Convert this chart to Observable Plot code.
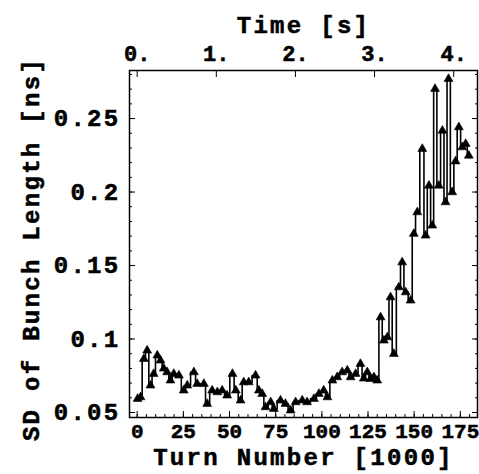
<!DOCTYPE html>
<html><head><meta charset="utf-8">
<script src="https://cdn.jsdelivr.net/npm/d3@7"></script>
<script src="https://cdn.jsdelivr.net/npm/@observablehq/plot@0.6"></script>
<style>
html,body{margin:0;padding:0;background:#fff}
#chart svg{letter-spacing:2.3px}
#chart svg text{stroke:#000;stroke-width:0.55px;paint-order:stroke}
#chart svg g[aria-label="x-axis tick label"]{letter-spacing:0px}
</style>
</head><body><div id="chart"></div>
<script>
// Data (turn number in thousands, SD of bunch length in ns)
const turns = [0.2, 1.8, 3.6, 5.4, 7.2, 8.9, 10.9, 12.6, 14.4, 16.2, 18.0, 19.8, 22.6, 25.2, 27.1, 30.7, 32.5, 36.1, 37.9, 40.6,
  43.4, 46.0, 48.7, 51.6, 53.4, 56.0, 57.7, 60.4, 64.1, 65.9, 67.7, 69.5, 72.3, 74.0, 77.6, 80.3, 83.1, 85.8, 89.4, 92.0,
  95.7, 98.4, 101.0, 103.0, 105.7, 108.3, 111.0, 113.8, 115.6, 118.3, 120.9, 122.7, 124.6, 126.4, 128.2, 130.0, 131.8, 133.6, 135.5, 137.2,
  139.0, 141.7, 143.5, 145.4, 148.1, 149.8, 151.7, 154.4, 156.2, 158.0, 159.8, 161.3, 163.3, 165.3, 167.0, 168.6, 170.6, 172.4, 174.2, 176.1,
  177.9, 179.6];
const sdBunchLength = [0.0593, 0.0604, 0.0865, 0.0922, 0.0684, 0.0763, 0.0888, 0.0854, 0.0799, 0.0774, 0.0718, 0.0763, 0.0752, 0.0650, 0.0684, 0.0774, 0.0695, 0.0695, 0.0559, 0.0650,
  0.0638, 0.0650, 0.0616, 0.0763, 0.0650, 0.0582, 0.0706, 0.0706, 0.0752, 0.0650, 0.0627, 0.0536, 0.0570, 0.0525, 0.0582, 0.0559, 0.0514, 0.0570, 0.0582, 0.0570,
  0.0593, 0.0627, 0.0650, 0.0604, 0.0718, 0.0740, 0.0774, 0.0786, 0.0740, 0.0763, 0.0831, 0.0731, 0.0774, 0.0729, 0.0740, 0.0718, 0.1148, 0.0990, 0.1012, 0.1284,
  0.0899, 0.1352, 0.1522, 0.1318, 0.1262, 0.1716, 0.1863, 0.2294, 0.1704, 0.2044, 0.1772, 0.2702, 0.2044, 0.2418, 0.1931, 0.2770, 0.1999, 0.2209, 0.2441, 0.2305,
  0.2328, 0.2248];

const turnTicks = [0, 25, 50, 75, 100, 125, 150, 175];
const turnTickLabels = ["0", "25", "50", "75", "100", "125", "150", "175"];
const yTicks = [0.05, 0.1, 0.15, 0.2, 0.25];
const yTickLabels = ["0.05", "0.1", "0.15", "0.2", "0.25"];
const timeTicks = [0, 1, 2, 3, 4];
const timeTickLabels = ["0.", "1.", "2.", "3.", "4."];
const turnsPerSecond = 42.85; // thousand turns per second (top axis)

const xTitle = "Turn Number [1000]";
const topTitle = "Time [s]";
const yTitle = "SD of Bunch Length [ns]";

const rows = turns.map((t, i) => ({turn: t, sd: sdBunchLength[i]}));
const minorTurn = d3.range(0, 181, 5);
const minorY = d3.range(0.05, 0.2801, 0.01);
const timeTickPos = timeTicks.map(s => s * turnsPerSecond);

const font = "'Liberation Mono', 'DejaVu Sans Mono', monospace";
const fs = 24;

const chart = Plot.plot({
  width: 479,
  height: 474,
  marginLeft: 129,
  marginRight: 2,
  marginTop: 70,
  marginBottom: 57,
  x: {domain: [-4.17, 184.3]},
  y: {domain: [0.0466, 0.2827]},
  style: {fontFamily: font, fontWeight: "bold", color: "black", background: "white"},
  marks: [
    // inward frame ticks
    Plot.axisX(minorTurn, {anchor: "bottom", tickSize: -3, text: null, label: null, strokeWidth: 1}),
    Plot.axisX(turnTicks, {anchor: "bottom", tickSize: -6, text: null, label: null, strokeWidth: 1}),
    Plot.axisX(timeTickPos, {anchor: "top", tickSize: -6, text: null, label: null, strokeWidth: 1}),
    Plot.axisY(minorY, {anchor: "left", tickSize: -3, text: null, label: null, strokeWidth: 1}),
    Plot.axisY(yTicks, {anchor: "left", tickSize: -6, text: null, label: null, strokeWidth: 1}),
    Plot.axisY(minorY, {anchor: "right", tickSize: -3, text: null, label: null, strokeWidth: 1}),
    Plot.axisY(yTicks, {anchor: "right", tickSize: -6, text: null, label: null, strokeWidth: 1}),
    // tick labels
    Plot.axisX(turnTicks, {anchor: "bottom", tickSize: 0, tickPadding: 6, label: null, fontSize: 21, fontWeight: "bold",
      tickFormat: d => turnTickLabels[turnTicks.indexOf(d)]}),
    Plot.axisX(timeTickPos, {anchor: "top", tickSize: 0, tickPadding: 10, label: null, fontSize: 22, fontWeight: "bold",
      tickFormat: d => timeTickLabels[timeTickPos.indexOf(d)]}),
    Plot.axisY(yTicks, {anchor: "left", tickSize: 0, tickPadding: 9, label: null, fontSize: fs, fontWeight: "bold",
      tickFormat: d => yTickLabels[yTicks.indexOf(d)]}),
    // titles
    Plot.text([topTitle], {text: d => d, frameAnchor: "top", lineAnchor: "middle", dy: -45, fontSize: fs, fontWeight: "bold"}),
    Plot.text([xTitle], {text: d => d, frameAnchor: "bottom", lineAnchor: "middle", dy: 40, fontSize: fs, fontWeight: "bold"}),
    Plot.text([yTitle], {text: d => d, frameAnchor: "left", textAnchor: "middle", lineAnchor: "middle", rotate: -90, dx: -98, dy: 5, fontSize: fs, fontWeight: "bold"}),
    // data
    Plot.line(rows, {x: "turn", y: "sd", curve: "step", stroke: "black", strokeWidth: 1.6}),
    Plot.dot(rows, {x: "turn", y: "sd", symbol: "triangle", r: 3.3, fill: "black", stroke: "black", strokeWidth: 0.6}),
    Plot.frame({stroke: "black", strokeWidth: 1.5})
  ]
});
document.getElementById("chart").appendChild(chart);
</script>
</body></html>
